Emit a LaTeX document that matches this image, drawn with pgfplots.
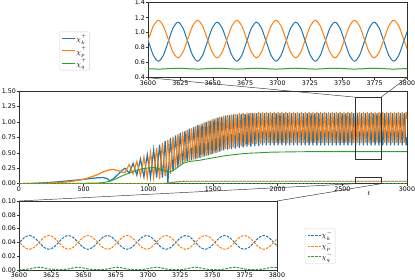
\documentclass[border=0pt]{standalone}
\usepackage{fontspec}
\setmainfont{DejaVu Sans}
\usepackage{pgfplots}
\usepackage{pgfplotstable}
\pgfplotsset{compat=1.18}
\definecolor{cB}{HTML}{1F77B4}
\definecolor{cO}{HTML}{FF7F0E}
\definecolor{cG}{HTML}{2CA02C}
\definecolor{spine}{HTML}{303030}
\newcommand{\hisup}[1]{^{\raisebox{1.2pt}{$\scriptstyle #1$}}}

% main axis: chi_k^+ (b) and chi_p^+ (o)
\pgfplotstableread{
t b o
0 0 0
100 0.005 0.003
200 0.015 0.008
300 0.03 0.015
400 0.05 0.035
500 0.07 0.07
600 0.095 0.14
650 0.10 0.19
680 0.085 0.215
703 0.045 0.225
730 0.08 0.23
770 0.16 0.21
800 0.22 0.185
820 0.25 0.18
852 0.17 0.31
882 0.33 0.16
911 0.14 0.36
939 0.40 0.13
966 0.11 0.43
992 0.47 0.10
1017 0.10 0.51
1041 0.55 0.10
1064 0.10 0.58
1087 0.63 0.08
1109 0.10 0.66
1130 0.69 0.12
1151 0.00 0.71
1171 0.74 0.16
1191 0.20 0.76
1210 0.78 0.24
1229 0.27 0.80
1247 0.82 0.30
1265 0.32 0.84
1283 0.85 0.35
1300 0.36 0.87
1317 0.89 0.37
1334 0.38 0.90
1351 0.92 0.39
1367 0.40 0.93
1383 0.95 0.41
1399 0.42 0.96
1415 0.97 0.43
1431 0.44 0.99
1447 1.00 0.45
1463 0.46 1.02
1478 1.02 0.47
1493 0.48 1.04
1508 1.05 0.49
1523 0.50 1.06
1538 1.07 0.51
1553 0.52 1.08
1568 1.08 0.54
1583 0.54 1.10
1598 1.10 0.56
1613 0.55 1.11
1628 1.11 0.57
1643 0.56 1.12
1658 1.12 0.59
1673 0.57 1.13
1688 1.12 0.60
1703 0.58 1.14
1718 1.13 0.61
1733 0.59 1.14
1748 1.13 0.62
1763 0.60 1.15
1778 1.14 0.63
1793 0.60 1.15
1808 1.14 0.64
1823 0.61 1.15
1838 1.14 0.65
1853 0.61 1.16
1868 1.14 0.65
1883 0.62 1.16
1898 1.14 0.66
1913 0.62 1.16
1928 1.14 0.66
1943 0.62 1.16
1958 1.14 0.66
1973 0.62 1.16
1988 1.14 0.66
2003 0.62 1.16
2018 1.14 0.66
2033 0.62 1.16
2048 1.14 0.66
2063 0.62 1.16
2078 1.14 0.66
2093 0.62 1.16
2108 1.14 0.66
2123 0.62 1.16
2138 1.14 0.66
2153 0.62 1.16
2168 1.14 0.66
2183 0.62 1.16
2198 1.14 0.66
2213 0.62 1.16
2228 1.14 0.66
2243 0.62 1.16
2258 1.14 0.66
2273 0.62 1.16
2288 1.14 0.66
2303 0.62 1.16
2318 1.14 0.66
2333 0.62 1.16
2348 1.14 0.66
2363 0.62 1.16
2378 1.14 0.66
2393 0.62 1.16
2408 1.14 0.66
2423 0.62 1.16
2438 1.14 0.66
2453 0.62 1.16
2468 1.14 0.66
2483 0.62 1.16
2498 1.14 0.66
2513 0.62 1.16
2528 1.14 0.66
2543 0.62 1.16
2558 1.14 0.66
2573 0.62 1.16
2588 1.14 0.66
2603 0.62 1.16
2618 1.14 0.66
2633 0.62 1.16
2648 1.14 0.66
2663 0.62 1.16
2678 1.14 0.66
2693 0.62 1.16
2708 1.14 0.66
2723 0.62 1.16
2738 1.14 0.66
2753 0.62 1.16
2768 1.14 0.66
2783 0.62 1.16
2798 1.14 0.66
2813 0.62 1.16
2828 1.14 0.66
2843 0.62 1.16
2858 1.14 0.66
2873 0.62 1.16
2888 1.14 0.66
2903 0.62 1.16
2918 1.14 0.66
2933 0.62 1.16
2948 1.14 0.66
2963 0.62 1.16
2978 1.14 0.66
2993 0.62 1.16
3000 0.75 1.05
}\mainpm

% main axis: chi_q^+
\pgfplotstableread{
t g
0 0
200 0.002
400 0.005
600 0.01
660 0.02
703 0.04
750 0.08
800 0.13
850 0.17
900 0.21
950 0.24
1000 0.255
1040 0.26
1080 0.245
1120 0.215
1155 0.185
1190 0.21
1230 0.27
1270 0.33
1320 0.36
1400 0.38
1450 0.40
1530 0.43
1600 0.455
1660 0.47
1750 0.49
1850 0.50
1950 0.51
2100 0.515
2300 0.52
3000 0.52
}\greenmain

% main axis: minus components
\pgfplotstableread{
t bm om gm
0 0 0 0.001
1100 0.002 0.002 0.001
1150 0.01 0.01 0.001
1200 0.025 0.025 0.002
1250 0.035 0.035 0.002
1300 0.04 0.04 0.002
3000 0.04 0.04 0.002
}\minusmain

% insets, t = 3600..3800
\pgfplotstableread{
t bp op gp bm om gm
3596.64 1.064 0.738 0.524 0.0329 0.0471 0.0007
3600.43 0.88 0.915 0.52 0.04 0.04 0.0005
3604.21 0.696 1.092 0.517 0.0471 0.0329 0.0007
3608.00 0.62 1.165 0.515 0.05 0.03 0.0015
3611.79 0.696 1.092 0.517 0.0471 0.0329 0.003
3615.58 0.88 0.915 0.52 0.04 0.04 0.004
3619.36 1.064 0.738 0.524 0.0329 0.0471 0.003
3623.15 1.14 0.665 0.526 0.03 0.05 0.0015
3626.94 1.064 0.738 0.524 0.0329 0.0471 0.0007
3630.73 0.88 0.915 0.52 0.04 0.04 0.0005
3634.51 0.696 1.092 0.517 0.0471 0.0329 0.0007
3638.30 0.62 1.165 0.515 0.05 0.03 0.0015
3642.09 0.696 1.092 0.517 0.0471 0.0329 0.003
3645.88 0.88 0.915 0.52 0.04 0.04 0.004
3649.66 1.064 0.738 0.524 0.0329 0.0471 0.003
3653.45 1.14 0.665 0.526 0.03 0.05 0.0015
3657.24 1.064 0.738 0.524 0.0329 0.0471 0.0007
3661.03 0.88 0.915 0.52 0.04 0.04 0.0005
3664.81 0.696 1.092 0.517 0.0471 0.0329 0.0007
3668.60 0.62 1.165 0.515 0.05 0.03 0.0015
3672.39 0.696 1.092 0.517 0.0471 0.0329 0.003
3676.18 0.88 0.915 0.52 0.04 0.04 0.004
3679.96 1.064 0.738 0.524 0.0329 0.0471 0.003
3683.75 1.14 0.665 0.526 0.03 0.05 0.0015
3687.54 1.064 0.738 0.524 0.0329 0.0471 0.0007
3691.33 0.88 0.915 0.52 0.04 0.04 0.0005
3695.11 0.696 1.092 0.517 0.0471 0.0329 0.0007
3698.90 0.62 1.165 0.515 0.05 0.03 0.0015
3702.69 0.696 1.092 0.517 0.0471 0.0329 0.003
3706.48 0.88 0.915 0.52 0.04 0.04 0.004
3710.26 1.064 0.738 0.524 0.0329 0.0471 0.003
3714.05 1.14 0.665 0.526 0.03 0.05 0.0015
3717.84 1.064 0.738 0.524 0.0329 0.0471 0.0007
3721.63 0.88 0.915 0.52 0.04 0.04 0.0005
3725.41 0.696 1.092 0.517 0.0471 0.0329 0.0007
3729.20 0.62 1.165 0.515 0.05 0.03 0.0015
3732.99 0.696 1.092 0.517 0.0471 0.0329 0.003
3736.78 0.88 0.915 0.52 0.04 0.04 0.004
3740.56 1.064 0.738 0.524 0.0329 0.0471 0.003
3744.35 1.14 0.665 0.526 0.03 0.05 0.0015
3748.14 1.064 0.738 0.524 0.0329 0.0471 0.0007
3751.93 0.88 0.915 0.52 0.04 0.04 0.0005
3755.71 0.696 1.092 0.517 0.0471 0.0329 0.0007
3759.50 0.62 1.165 0.515 0.05 0.03 0.0015
3763.29 0.696 1.092 0.517 0.0471 0.0329 0.003
3767.08 0.88 0.915 0.52 0.04 0.04 0.004
3770.86 1.064 0.738 0.524 0.0329 0.0471 0.003
3774.65 1.14 0.665 0.526 0.03 0.05 0.0015
3778.44 1.064 0.738 0.524 0.0329 0.0471 0.0007
3782.23 0.88 0.915 0.52 0.04 0.04 0.0005
3786.01 0.696 1.092 0.517 0.0471 0.0329 0.0007
3789.80 0.62 1.165 0.515 0.05 0.03 0.0015
3793.59 0.696 1.092 0.517 0.0471 0.0329 0.003
3797.38 0.88 0.915 0.52 0.04 0.04 0.004
3801.16 1.064 0.738 0.524 0.0329 0.0471 0.003
}\inset

\pgfplotsset{
  legend image code/.code={\draw[#1] (0pt,0pt) -- (13pt,0pt);},
  myax/.style={
    scale only axis,
    axis line style={spine, line width=0.5pt},
    every tick/.style={spine, line width=0.5pt},
    tick align=outside, xtick pos=bottom, ytick pos=left,
    major tick length=2pt,
    ticklabel style={font=\fontsize{6.3}{7}\selectfont, inner sep=1pt, text=black},
    /pgf/number format/assume math mode=true,
    /pgf/number format/1000 sep={},
    xticklabel style={/pgf/number format/fixed, /pgf/number format/precision=0},
    legend cell align=left,
    legend style={draw=gray!35, rounded corners=1pt, font=\fontsize{7}{8}\selectfont,
      inner sep=2pt, row sep=1.8pt, anchor=center,
      nodes={inner sep=0.6pt}},
  },
  dsh/.style={dash pattern=on 2.6pt off 1.2pt},
}

\begin{document}
\begin{tikzpicture}[x=1pt,y=1pt]
\useasboundingbox (0,0) rectangle (415,280);

% ---------- main axis ----------
\begin{axis}[myax, name=main,
  at={(19pt,96.3pt)}, anchor=south west, width=388pt, height=92.7pt,
  xmin=0, xmax=3000, ymin=0, ymax=1.5,
  xtick={0,500,1000,1500,2000,2500,3000},
  ytick={0,0.25,0.5,0.75,1,1.25,1.5},
  yticklabel style={/pgf/number format/.cd, fixed, fixed zerofill, precision=2},
  xlabel={$t$},
  xlabel style={at={(axis description cs:0.902,-0.10)}, anchor=center, font=\fontsize{7}{7}\selectfont},
]
\addplot[cB, line width=1.2pt] table[x=t, y=b] {\mainpm};
\addplot[cO, line width=1.2pt] table[x=t, y=o] {\mainpm};
\addplot[cG, line width=0.9pt] table[x=t, y=g] {\greenmain};
\addplot[cB, line width=0.9pt, dsh] table[x=t, y=bm] {\minusmain};
\addplot[cO, line width=0.9pt, dsh, dash phase=1.9pt] table[x=t, y=om] {\minusmain};
\addplot[cG, line width=0.8pt, dsh] table[x=t, y=gm] {\minusmain};
\draw[spine, line width=0.5pt] (axis cs:2600,0.4) rectangle (axis cs:2800,1.4);
\draw[spine, line width=0.5pt] (axis cs:2600,0) rectangle (axis cs:2800,0.1);
\coordinate (mrTL) at (axis cs:2600,1.4);
\coordinate (mrTR) at (axis cs:2800,1.4);
\coordinate (mrBL) at (axis cs:2600,0);
\coordinate (mrBR) at (axis cs:2800,0);
\end{axis}

% ---------- top inset ----------
\begin{axis}[myax, name=top,
  at={(148pt,202.3pt)}, anchor=south west, width=259pt, height=75pt,
  xmin=3600, xmax=3800, ymin=0.4, ymax=1.4,
  xtick={3600,3625,3650,3675,3700,3725,3750,3775,3800},
  ytick={0.4,0.6,0.8,1.0,1.2,1.4},
  yticklabel style={/pgf/number format/.cd, fixed, fixed zerofill, precision=1},
  legend style={at={(axis description cs:-0.284,0.356)}},
]
\addplot[cB, line width=1pt, smooth] table[x=t, y=bp] {\inset};
\addlegendentry{$\chi_k\hisup{+}$}
\addplot[cO, line width=1pt, smooth] table[x=t, y=op] {\inset};
\addlegendentry{$\chi_p\hisup{+}$}
\addplot[cG, line width=1pt, smooth] table[x=t, y=gp] {\inset};
\addlegendentry{$\chi_q\hisup{+}$}
\end{axis}

% ---------- bottom inset ----------
\begin{axis}[myax, name=bot,
  at={(19pt,10pt)}, anchor=south west, width=258pt, height=69pt,
  xmin=3600, xmax=3800, ymin=0, ymax=0.1,
  xtick={3600,3625,3650,3675,3700,3725,3750,3775,3800},
  ytick={0,0.02,0.04,0.06,0.08,0.1},
  yticklabel style={/pgf/number format/.cd, fixed, fixed zerofill, precision=2},
  legend style={at={(axis description cs:1.167,0.348)}},
]
\addplot[cB, line width=1pt, smooth, dsh] table[x=t, y=bm] {\inset};
\addlegendentry{$\chi_k^-$}
\addplot[cO, line width=1pt, smooth, dsh] table[x=t, y=om] {\inset};
\addlegendentry{$\chi_p^-$}
\addplot[cG, line width=1pt, smooth, dsh] table[x=t, y=gm] {\inset};
\addlegendentry{$\chi_q^-$}
\end{axis}

% ---------- zoom connectors ----------
\draw[spine, line width=0.45pt] (mrTL) -- (top.south west);
\draw[spine, line width=0.45pt] (mrTR) -- (top.south east);
\draw[spine, line width=0.45pt] (mrBL) -- (bot.north west);
\draw[spine, line width=0.45pt] (mrBR) -- (bot.north east);
\end{tikzpicture}
\end{document}
